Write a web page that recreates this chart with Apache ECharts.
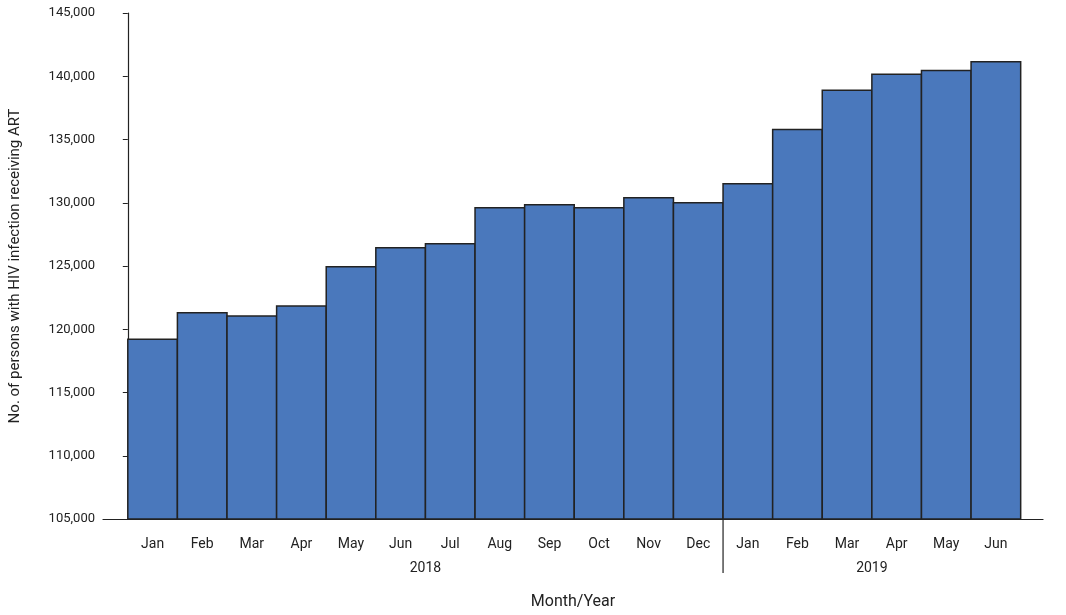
<!DOCTYPE html>
<html><head><meta charset="utf-8">
<script src="https://cdn.jsdelivr.net/npm/echarts@6/dist/echarts.min.js"></script>
<style>html,body{margin:0;padding:0;background:#fff}#c{width:1066px;height:615px}</style>
</head><body><div id="c"></div>
<script>
const months = ['Jan','Feb','Mar','Apr','May','Jun','Jul','Aug','Sep','Oct','Nov','Dec','Jan','Feb','Mar','Apr','May','Jun'];
const values = [119200,121300,121050,121840,124950,126450,126750,129600,129850,129600,130400,130000,131500,135800,138900,140150,140450,141150];
const years = ['2018','2019'];
const yearStart = [0,12];
const yearEnd = [12,18];
const yTicks = [105000,145000,5000];

const chart = echarts.init(document.getElementById('c'));
const font = 'Roboto, "Open Sans", sans-serif';
chart.setOption({
  animation:false,
  grid:{left:103,right:23,top:13,bottom:96},
  xAxis:{type:'value',min:-0.5,max:18.45,axisLabel:{show:false},axisTick:{show:false},splitLine:{show:false},
    axisLine:{lineStyle:{color:'#222',width:1.2}},
    name:'Month/Year',nameLocation:'middle',nameGap:75,nameTextStyle:{fontSize:16,color:'#222',fontFamily:font}},
  yAxis:{type:'value',min:yTicks[0],max:yTicks[1],interval:yTicks[2],splitLine:{show:false},
    axisLine:{show:true,lineStyle:{color:'#222',width:1.2}},axisTick:{show:true,lineStyle:{color:'#222'}},
    axisLabel:{color:'#222',fontSize:13,fontFamily:font,formatter:v=>v.toLocaleString('en-US')},
    name:'No. of persons with HIV infection receiving ART',nameLocation:'middle',nameGap:80,
    nameTextStyle:{fontSize:15,color:'#222',fontFamily:font}},
  series:[{
    type:'custom',clip:false,
    data:values.map((v,i)=>[i,v,months[i]]),
    renderItem:(p,api)=>{
      const i=api.value(0),v=api.value(1);
      const a=api.coord([i,v]),b=api.coord([i+1,yTicks[0]]);
      return {type:'group',children:[
        {type:'rect',shape:{x:a[0],y:a[1],width:b[0]-a[0],height:b[1]-a[1]},
         style:{fill:'#4a78bc',stroke:'#222',lineWidth:1.5}},
        {type:'text',x:(a[0]+b[0])/2,y:b[1]+25,style:{text:months[i],align:'center',verticalAlign:'middle',fontSize:14,fill:'#222',fontFamily:font}}
      ]};
    }
  },{
    type:'custom',clip:false,
    data:years.map((y,i)=>[yearStart[i],yearEnd[i],y]),
    renderItem:(p,api)=>{
      const s=api.value(0),e=api.value(1);
      const a=api.coord([s,yTicks[0]]),b=api.coord([e,yTicks[0]]);
      const ch=[{type:'text',x:(a[0]+b[0])/2,y:a[1]+49,style:{text:years[p.dataIndex],align:'center',verticalAlign:'middle',fontSize:14,fill:'#222',fontFamily:font}}];
      if(s>0) ch.push({type:'line',shape:{x1:a[0],y1:a[1],x2:a[0],y2:a[1]+54},style:{stroke:'#222',lineWidth:1.2}});
      return {type:'group',children:ch};
    }
  }]
});
</script></body></html>
